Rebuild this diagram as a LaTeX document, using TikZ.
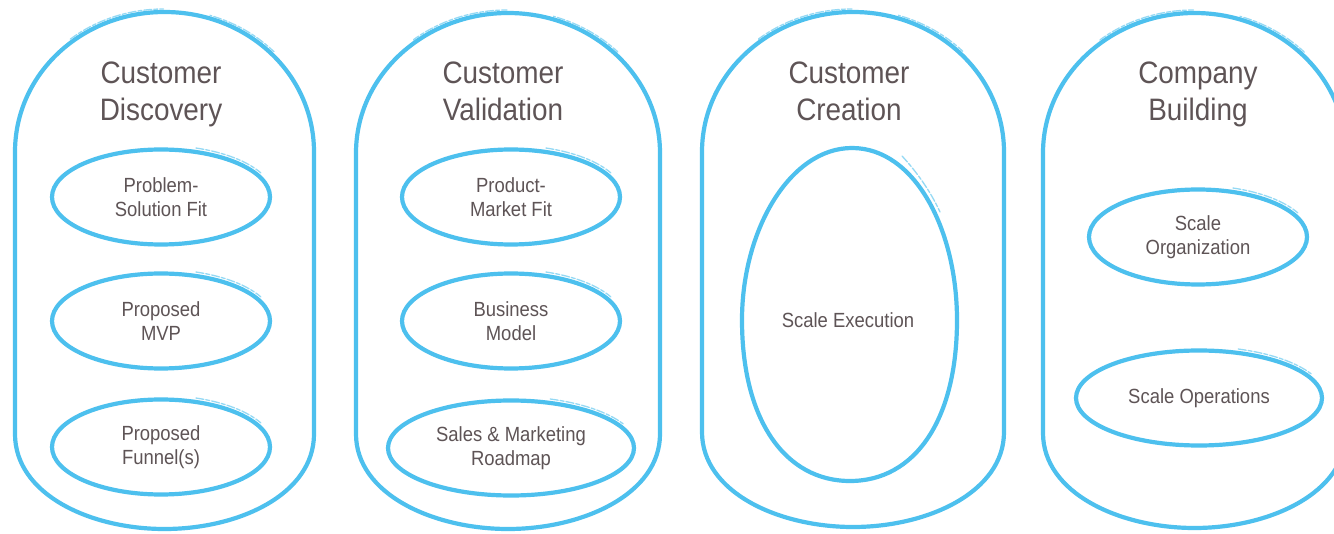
\documentclass[tikz,border=0pt]{standalone}
\usepackage{fontspec}
\setmainfont{Liberation Sans}[FakeStretch=0.9]
\usetikzlibrary{shapes.geometric}
\definecolor{skblue}{RGB}{77,192,238}
\definecolor{txtc}{RGB}{94,84,86}
\newcommand\phasebox[4]{%
  \draw[stroke] (#1,#3+140) .. controls (#1,#3+62) and ({(#1+#2)/2-83},#3) .. ({(#1+#2)/2},#3)
    .. controls ({(#1+#2)/2+83},#3) and (#2,#3+62) .. (#2,#3+140)
    -- (#2,#4-95) .. controls (#2,#4-35) and ({(#1+#2)/2+75},#4) .. ({(#1+#2)/2},#4)
    .. controls ({(#1+#2)/2-75},#4) and (#1,#4-35) .. (#1,#4-95) -- cycle;
  \begin{scope}
    \clip ({(#1+#2)/2-95},#3-12) rectangle ({(#1+#2)/2+12},#3+30);
    \draw[sketch, shift={(-1,-3)}] (#1,#3+140) .. controls (#1,#3+62) and ({(#1+#2)/2-83},#3) .. ({(#1+#2)/2},#3);
  \end{scope}
  \begin{scope}
    \clip ({(#1+#2)/2+45},#3-12) rectangle ({(#1+#2)/2+110},#3+40);
    \draw[sketch, shift={(2,-2.5)}] ({(#1+#2)/2},#3) .. controls ({(#1+#2)/2+83},#3) and (#2,#3+62) .. (#2,#3+140);
  \end{scope}}
\newcommand\ellmark[3]{%
  \draw[sketch] ([shift={(-72:#2+4 and #3+4)}]#1.center) arc[start angle=-72, end angle=-28, x radius=#2+4, y radius=#3+4];}
\begin{document}
\begin{tikzpicture}[x=1pt,y=-1pt,
  stroke/.style={draw=skblue, line width=4.2pt, line join=round, line cap=round},
  sketch/.style={draw=skblue, line width=1.3pt, opacity=0.6, dash pattern=on 8pt off 2pt on 4pt off 2pt, line cap=round},
  ell/.style={ellipse, stroke, inner sep=0pt, minimum width=218pt, minimum height=95pt,
    text=txtc, font=\fontsize{20.5}{24}\selectfont, align=center},
  ttl/.style={text=txtc, font=\fontsize{31}{37}\selectfont, align=center, inner sep=0pt, text depth=0pt},
  lbl/.style={text=txtc, font=\fontsize{20.5}{24}\selectfont, align=center, inner sep=0pt}]
\useasboundingbox (0,0) rectangle (1334,534);
\clip (0,0) rectangle (1334,534);
\fill[white] (0,0) rectangle (1334,534);
% outer phase boxes
\phasebox{15}{314}{12}{529}
\phasebox{356}{660}{13}{529}
\phasebox{702}{1004}{12}{527}
\phasebox{1043}{1346}{13}{528}
% titles
\node[ttl] (t1) at (161,91) {Customer\\Discovery};
\node[ttl] (t2) at (503,91) {Customer\\Validation};
\node[ttl] (t3) at (849,91) {Customer\\Creation};
\node[ttl] (t4) at (1198,91) {Company\\Building};
% Customer Discovery
\node[ell] (d1) at (161,197) {Problem-\\Solution Fit};
\node[ell] (d2) at (161,321) {Proposed\\MVP};
\node[ell] (d3) at (161,447) {Proposed\\Funnel(s)};
% Customer Validation
\node[ell] (v1) at (511,197) {Product-\\Market Fit};
\node[ell] (v2) at (511,321) {Business\\Model};
\node[ell, minimum width=246pt] (v3) at (511,448) {Sales \& Marketing\\Roadmap};
% Customer Creation
\draw[stroke] (852,148) .. controls (915,148) and (957,230) .. (957,320)
  .. controls (957,420) and (915,481) .. (850,481)
  .. controls (785,481) and (742,420) .. (742,320)
  .. controls (742,230) and (790,148) .. (852,148);
\draw[sketch] (902,156) .. controls (915,170) and (930,190) .. (940,212);
\node[lbl] (c1) at (848,320) {Scale Execution};
% Company Building
\node[ell] (b1) at (1198,237) {Scale\\Organization};
\node[ell, minimum width=246pt] (b2) at (1199,398) {Scale Operations};
% sketch marks on the ellipses
\ellmark{d1}{109}{47.5}\ellmark{d2}{109}{47.5}\ellmark{d3}{109}{47.5}
\ellmark{v1}{109}{47.5}\ellmark{v2}{109}{47.5}\ellmark{v3}{123}{47.5}
\ellmark{b1}{109}{47.5}\ellmark{b2}{123}{47.5}
\end{tikzpicture}
\end{document}
